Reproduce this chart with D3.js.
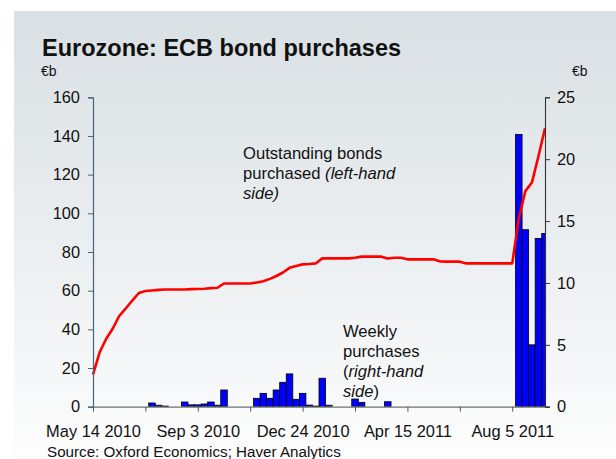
<!DOCTYPE html>
<html>
<head>
<meta charset="utf-8">
<script src="https://cdn.jsdelivr.net/npm/d3@7"></script>
<style>
  body { margin: 0; background: #ffffff; }
  text { font-family: "Liberation Sans", Arial, sans-serif; fill: #111; }
</style>
</head>
<body>
<svg id="chart" width="616" height="459"></svg>
<script>
// Weekly series, first observation on Friday 14 May 2010
const firstWeek = "2010-05-14";

// Weekly ECB purchases, EUR bn (right-hand axis)
const weeklyPurchases = [
  0, 0, 0, 0, 0, 0, 0, 0, 0, 0.3,
  0.12, 0.05, 0, 0, 0.38, 0.15, 0.15, 0.22, 0.38, 0.12,
  1.35, 0, 0, 0, 0, 0.68, 1.08, 0.68, 1.35, 1.97,
  2.65, 0.6, 1.08, 0.13, 0.05, 2.3, 0.12, 0, 0, 0,
  0.62, 0.35, 0, 0, 0, 0.4, 0, 0, 0, 0,
  0, 0, 0, 0, 0, 0, 0, 0, 0, 0,
  0, 0, 0, 0, 0, 22.0, 14.3, 5.0, 13.6, 14.0
];

// Outstanding bonds purchased, EUR bn (left-hand axis)
const outstandingBonds = [
  16.6, 28, 35, 40.3, 46.9, 50.8, 54.9, 58.8, 59.8, 60.1,
  60.4, 60.6, 60.6, 60.6, 60.6, 60.8, 60.9, 61.0, 61.3, 61.5,
  63.7, 63.7, 63.7, 63.7, 63.7, 64.2, 64.9, 66.1, 67.6, 69.4,
  71.8, 72.8, 73.6, 73.8, 74.1, 76.7, 76.7, 76.7, 76.7, 76.7,
  77.0, 77.6, 77.6, 77.6, 77.6, 76.6, 77.0, 77.0, 76.2, 76.2,
  76.2, 76.2, 76.2, 75.1, 75.0, 75.0, 75.0, 74.1, 74.1, 74.1,
  74.1, 74.1, 74.1, 74.1, 74.1, 97.5, 111.5, 115.9, 129.5, 144.0
];

const leftTicks = [0, 20, 40, 60, 80, 100, 120, 140, 160];
const rightTicks = [0, 5, 10, 15, 20, 25];
const xTickStepWeeks = 8;

const svg = d3.select("#chart");
const W = 616, H = 459;
const plot = { left: 93, right: 545, top: 97.3, bottom: 406.7 };

// Panel background: soft grey-blue fading to white
const defs = svg.append("defs");
const grad = defs.append("linearGradient")
  .attr("id", "panelFill").attr("x1", 0).attr("y1", 0).attr("x2", 0).attr("y2", 1);
grad.append("stop").attr("offset", "0%").attr("stop-color", "#d9e0e3");
grad.append("stop").attr("offset", "55%").attr("stop-color", "#eceff1");
grad.append("stop").attr("offset", "100%").attr("stop-color", "#fdfdfd");
svg.append("rect").attr("x", 0).attr("y", 0).attr("width", W).attr("height", H).attr("fill", "#ffffff");
svg.append("rect").attr("x", 14).attr("y", 11).attr("width", W - 14).attr("height", H - 11)
  .attr("fill", "url(#panelFill)");

defs.append("clipPath").attr("id", "plotClip")
  .append("rect")
  .attr("x", plot.left).attr("y", 0)
  .attr("width", plot.right - plot.left).attr("height", plot.bottom);

// Dates for each week
const t0 = d3.timeParse("%Y-%m-%d")(firstWeek);
const weeks = weeklyPurchases.map((_, i) => d3.timeWeek.offset(t0, i));

const x = d3.scaleTime()
  .domain([weeks[0], weeks[weeks.length - 1]])
  .range([plot.left, plot.right]);
const yL = d3.scaleLinear().domain([0, 160]).range([plot.bottom, plot.top]);
const yR = d3.scaleLinear().domain([0, 25]).range([plot.bottom, plot.top]);

// Weekly purchase bars
const halfWeek = 3.5 * 24 * 3600 * 1000;
svg.append("g").attr("clip-path", "url(#plotClip)")
  .selectAll("rect")
  .data(weeks.map((d, i) => ({ date: d, v: weeklyPurchases[i] })).filter(d => d.v > 0))
  .join("rect")
  .attr("x", d => x(new Date(+d.date - halfWeek)))
  .attr("width", d => x(new Date(+d.date + halfWeek)) - x(new Date(+d.date - halfWeek)))
  .attr("y", d => yR(d.v))
  .attr("height", d => yR(0) - yR(d.v))
  .attr("fill", "#0000ff")
  .attr("stroke", "#000")
  .attr("stroke-width", 0.8);

// Outstanding stock line
svg.append("path")
  .datum(weeks.map((d, i) => ({ date: d, v: outstandingBonds[i] })))
  .attr("fill", "none")
  .attr("stroke", "#ff0000")
  .attr("stroke-width", 2.6)
  .attr("stroke-linejoin", "round")
  .attr("d", d3.line().x(d => x(d.date)).y(d => yL(d.v)));

// Axes
const fmt = d3.timeFormat("%b %-d %Y");
const xTicks = weeks.filter((_, i) => i % xTickStepWeeks === 0);
const xAxis = svg.append("g")
  .attr("transform", `translate(0,${plot.bottom})`)
  .call(d3.axisBottom(x).tickValues(xTicks).tickSize(5).tickPadding(14)
    .tickFormat((d, i) => (i % 2 === 0 ? fmt(d) : "")));
xAxis.select(".domain").attr("stroke", "#707070").attr("stroke-width", 1.3)
  .attr("d", `M${plot.left},0.5H${plot.right + 5}`);
xAxis.selectAll(".tick line").attr("stroke", "#555");
xAxis.selectAll(".tick text").attr("font-size", "16.4px").attr("fill", "#111");

const leftAxis = svg.append("g")
  .attr("transform", `translate(${plot.left},0)`)
  .call(d3.axisLeft(yL).tickValues(leftTicks).tickSize(5).tickPadding(8));
leftAxis.select(".domain").attr("stroke", "#46637c").attr("stroke-width", 1.2);
leftAxis.selectAll(".tick line").attr("stroke", "#46637c");
leftAxis.selectAll(".tick text").attr("font-size", "16.4px").attr("fill", "#111");

const rightAxis = svg.append("g")
  .attr("transform", `translate(${plot.right},0)`)
  .call(d3.axisRight(yR).tickValues(rightTicks).tickSize(5).tickPadding(7));
rightAxis.select(".domain").attr("stroke", "#333").attr("stroke-width", 1.1);
rightAxis.selectAll(".tick line").attr("stroke", "#333");
rightAxis.selectAll(".tick text").attr("font-size", "16.4px").attr("fill", "#111");

// Title, units and source
svg.append("text").attr("x", 42).attr("y", 56)
  .attr("font-size", "23.5px").attr("font-weight", "bold")
  .text("Eurozone: ECB bond purchases");
svg.append("text").attr("x", 41).attr("y", 76).attr("font-size", "14px").text("€b");
svg.append("text").attr("x", 572).attr("y", 76).attr("font-size", "14px").text("€b");
svg.append("text").attr("x", 47).attr("y", 457).attr("font-size", "15.2px")
  .text("Source: Oxford Economics; Haver Analytics");

// In-chart annotations
const note1 = svg.append("text").attr("x", 243).attr("y", 159).attr("font-size", "16.6px");
note1.append("tspan").attr("x", 243).attr("dy", 0).text("Outstanding bonds");
const l2 = note1.append("tspan").attr("x", 243).attr("dy", 20);
l2.append("tspan").text("purchased ");
l2.append("tspan").attr("font-style", "italic").text("(left-hand");
note1.append("tspan").attr("x", 243).attr("dy", 20).attr("font-style", "italic").text("side)");

const note2 = svg.append("text").attr("x", 343).attr("y", 337).attr("font-size", "16.6px");
note2.append("tspan").attr("x", 343).attr("dy", 0).text("Weekly");
note2.append("tspan").attr("x", 343).attr("dy", 20).text("purchases");
const m3 = note2.append("tspan").attr("x", 343).attr("dy", 20);
m3.append("tspan").text("(");
m3.append("tspan").attr("font-style", "italic").text("right-hand");
const m4 = note2.append("tspan").attr("x", 343).attr("dy", 20);
m4.append("tspan").attr("font-style", "italic").text("side");
m4.append("tspan").text(")");
</script>
</body>
</html>
